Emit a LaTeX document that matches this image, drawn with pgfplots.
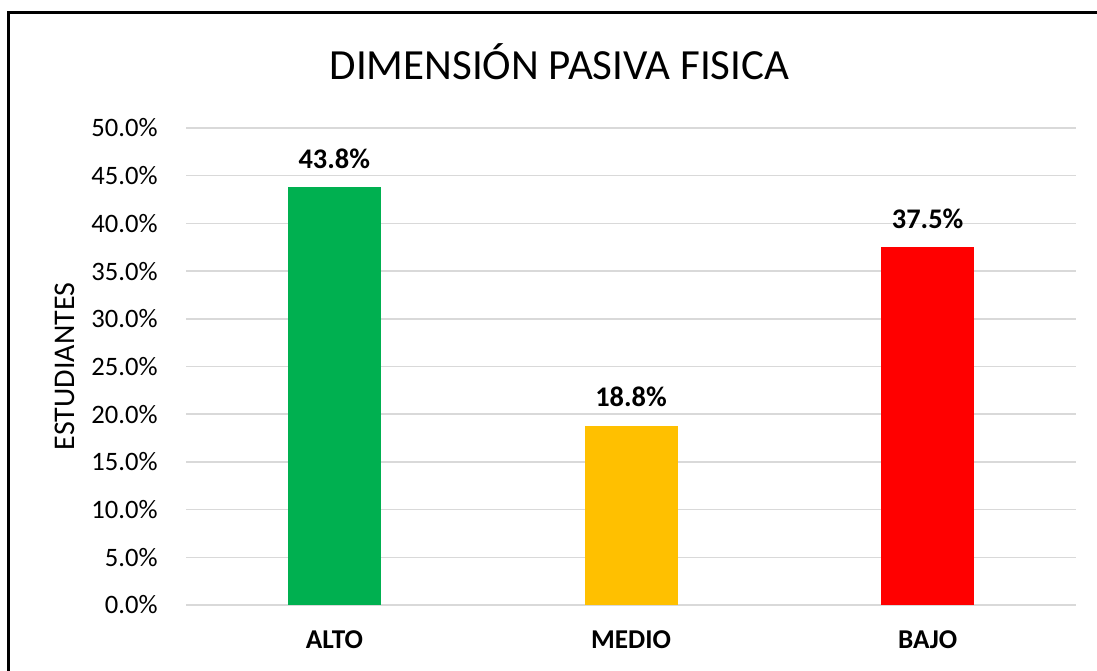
\documentclass[border=0pt]{standalone}
\usepackage{fontspec}
\setmainfont{Carlito}
\usepackage{pgfplots}
\pgfplotsset{compat=1.18}
\definecolor{cgreen}{HTML}{00B050}
\definecolor{cyellow}{HTML}{FFC000}
\definecolor{cred}{HTML}{FF0000}
\definecolor{cgrid}{HTML}{D9D9D9}
\begin{document}
\begin{tikzpicture}
\useasboundingbox (0pt,0pt) rectangle (548.5pt,335pt);
\draw[line width=1.5pt] (4pt,-10pt) -- (4pt,328.5pt) -- (560pt,328.5pt);
\node[anchor=base, inner sep=0pt, font=\fontsize{21.5}{25}\selectfont] at (279.75pt,295pt) {DIMENSIÓN PASIVA FISICA};
\begin{axis}[
  at={(93pt,32.5pt)}, anchor=south west,
  scale only axis, width=445pt, height=238.5pt,
  ybar, bar width=46.5pt,
  xmin=-0.5, xmax=2.5, ymin=0, ymax=50,
  xtick={0,1,2}, xticklabels={ALTO,MEDIO,BAJO},
  ytick={0,5,...,50},
  major tick length=0pt,
  axis line style={draw=none},
  ymajorgrids, grid style={color=cgrid, line width=0.75pt},
  /pgf/number format/assume math mode=true,
  yticklabel={\pgfmathprintnumber[fixed,fixed zerofill,precision=1]{\tick}\%},
  yticklabel style={font=\fontsize{13.3}{16}\selectfont, anchor=east, inner sep=0pt, xshift=-14pt},
  xticklabel style={font=\bfseries\fontsize{13.6}{16}\selectfont, anchor=base, inner sep=0pt, yshift=-21.9pt},
  ylabel={ESTUDIANTES},
  ylabel style={font=\fontsize{15}{18}\selectfont, at={(axis description cs:-0.136,0.5)}, anchor=center, inner sep=0pt},
  nodes near coords={\pgfmathprintnumber[fixed,fixed zerofill,precision=1]{\pgfplotspointmeta}\%},
  nodes near coords style={font=\bfseries\fontsize{14.2}{17}\selectfont, anchor=base, inner sep=0pt, yshift=9.5pt, text=black},
  clip=false,
]
\addplot[fill=cgreen, draw=none, bar shift=0pt] coordinates {(0,43.8)};
\addplot[fill=cyellow, draw=none, bar shift=0pt] coordinates {(1,18.8)};
\addplot[fill=cred, draw=none, bar shift=0pt] coordinates {(2,37.5)};
\end{axis}
\end{tikzpicture}
\end{document}
